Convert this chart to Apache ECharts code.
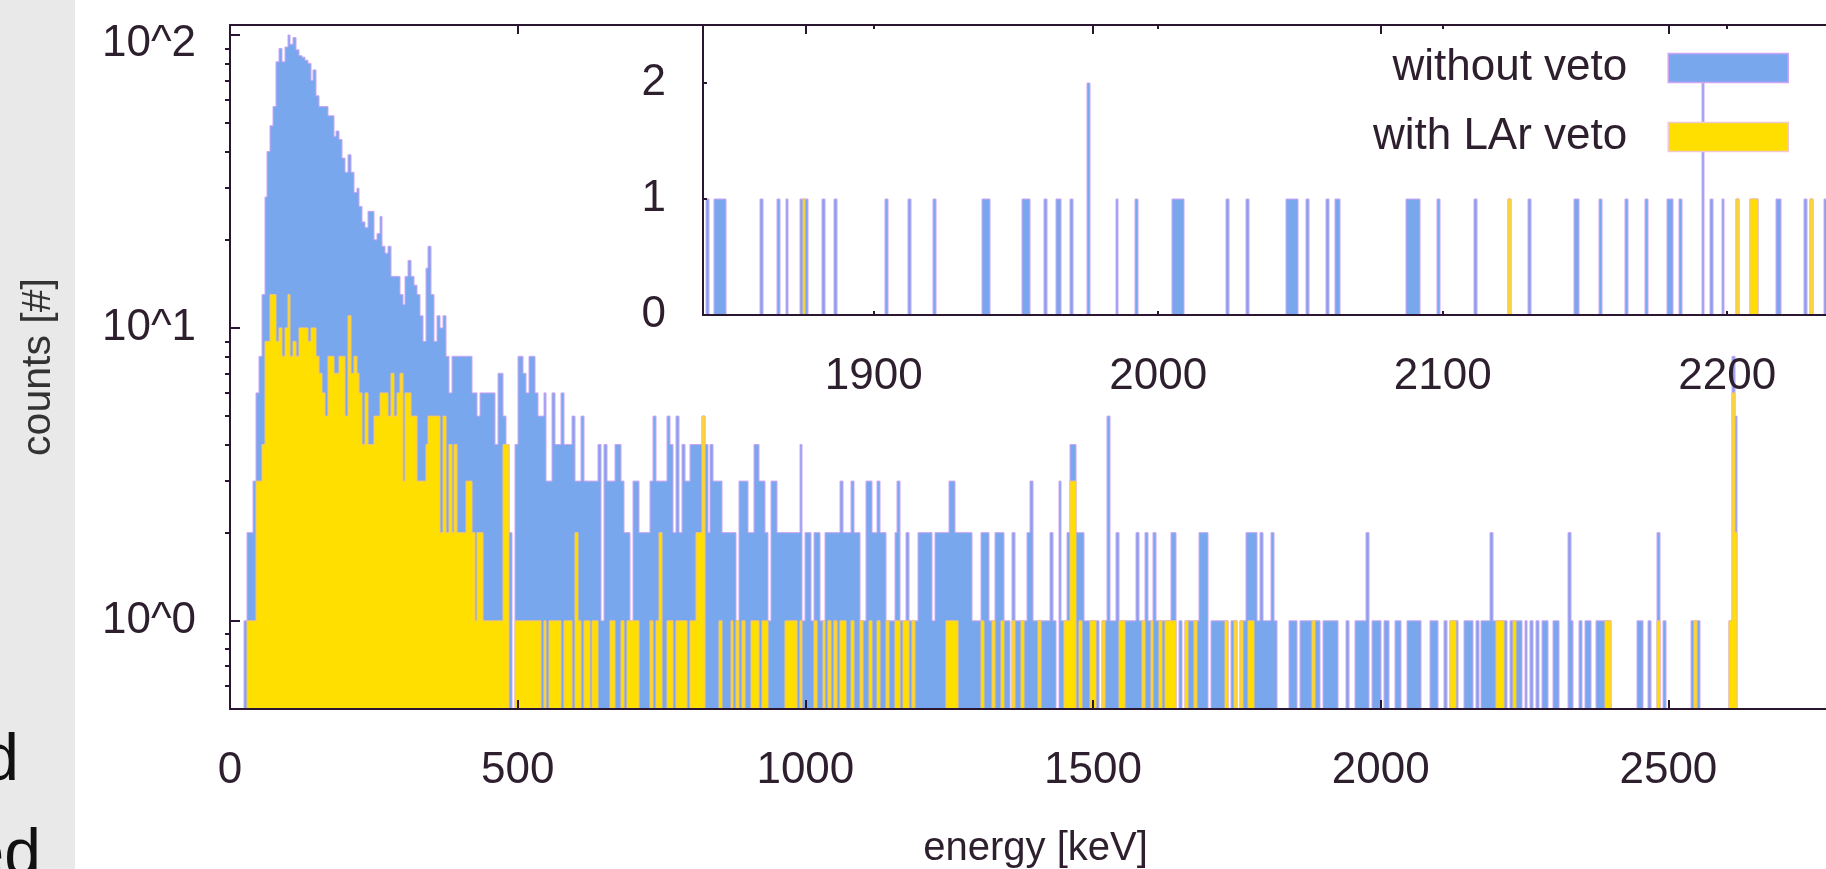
<!DOCTYPE html>
<html>
<head>
<meta charset="utf-8">
<title>energy spectrum</title>
<script src="https://cdn.jsdelivr.net/npm/echarts@6/dist/echarts.min.js"></script>
<style>
html, body { margin: 0; padding: 0; background: #fff; }
#wrap { position: relative; width: 1826px; height: 869px; overflow: hidden; background: #fff; }
#strip { position: absolute; left: 0; top: 0; width: 75px; height: 869px; background: #e9e9e9; }
.word { position: absolute; font-family: 'Liberation Sans', Arial, sans-serif; font-size: 66px; color: #111; white-space: nowrap; line-height: 1; }
#main { position: absolute; left: 0; top: 0; width: 1826px; height: 869px; }
</style>
</head>
<body>
<div id="wrap">
  <div id="strip"></div>
  <div class="word" style="right:1807px; top:724px;">d</div>
  <div class="word" style="right:1785px; top:819px;">ed</div>
  <div id="main"></div>
</div>
<script>
// main histogram: 5 keV bins starting at 0 keV
var binWidth = 5;
var mainBlue = [
  0,0,0,0,0,1,2,2,3,6,8,13,28,40,49,57,81,90,81,91,
  100,93,98,89,85,84,82,80,70,76,62,57,57,57,53,53,45,47,44,38,
  34,39,34,29,30,26,23,22,25,25,20,21,24,19,18,19,15,15,15,13,
  12,15,17,15,14,13,11,9,16,19,13,9,11,10,11,8,6,8,8,8,
  8,8,8,8,6,6,5,6,6,6,6,6,4,7,7,5,4,2,0,4,
  8,8,7,6,8,8,6,5,5,6,3,3,6,4,4,6,4,4,4,5,
  3,3,5,3,3,3,3,3,4,1,4,3,3,3,4,4,3,2,2,1,
  3,3,2,2,2,2,3,5,3,3,3,3,5,4,2,5,2,4,3,3,
  4,4,4,4,5,4,2,4,3,3,3,2,2,2,2,2,1,3,3,3,
  2,2,4,4,3,3,2,1,3,3,2,2,2,2,2,2,2,2,4,1,
  2,2,1,2,2,1,1,2,2,2,2,2,3,2,2,2,3,2,2,1,
  1,3,3,2,2,3,2,2,1,1,1,2,3,1,1,2,1,1,1,2,
  2,2,2,2,1,2,2,2,2,2,3,3,2,2,2,2,2,2,1,1,
  1,2,2,2,1,1,2,2,2,1,1,0,2,1,1,1,1,2,3,1,
  1,1,1,1,1,2,1,0,3,1,1,2,4,4,2,2,2,1,1,1,
  1,1,0,1,1,5,1,1,2,1,1,1,1,1,1,2,1,1,2,1,
  1,2,1,1,1,1,1,2,2,0,1,0,1,1,1,1,1,2,2,2,
  0,1,1,1,1,1,1,0,1,1,0,1,1,2,2,2,2,1,2,1,
  1,1,2,1,0,0,0,0,1,1,1,0,1,1,1,1,1,1,1,0,
  1,1,1,1,1,0,0,0,1,0,0,1,1,1,1,2,0,1,1,1,
  0,1,1,0,0,1,1,0,0,1,1,1,1,1,0,0,0,1,1,1,
  0,0,1,0,1,1,1,0,0,1,1,1,0,1,0,1,1,1,2,1,
  1,1,1,1,0,1,1,1,1,0,1,0,1,0,1,0,1,1,0,0,
  1,1,0,0,0,2,1,0,0,1,0,1,1,0,0,1,1,1,1,1,
  0,0,0,0,0,0,0,0,0,1,1,0,0,1,0,0,2,0,1,0,
  0,0,0,0,0,0,0,0,1,1,1,0,0,0,0,0,0,0,0,0,
  0,1,8,5,0,0,0,0,0,0,0,0,0,0,0,0,0,0,0,0,
  0,0,0,0,0,0,0,0,0,0,0,0,0,0,0,0,0,0,0,0
];
var mainYellow = [
  0,0,0,0,0,0,1,1,1,3,3,4,9,9,13,13,9,10,8,10,
  13,8,9,8,10,10,10,9,10,10,8,7,6,5,8,8,7,7,8,8,
  5,11,7,8,7,6,4,6,4,4,5,5,6,6,6,5,7,5,6,7,
  3,6,6,5,5,3,3,3,4,5,5,5,5,2,5,2,4,2,4,2,
  2,2,3,3,2,1,2,2,1,1,1,1,1,1,1,4,4,0,0,1,
  1,1,1,1,1,1,1,1,0,1,0,1,1,1,1,0,1,1,1,0,
  2,1,0,1,1,0,1,1,0,0,0,0,1,1,0,0,1,0,1,1,
  1,1,0,0,0,0,1,0,1,2,0,0,1,1,0,1,1,1,1,0,
  1,1,2,2,5,0,0,0,0,0,1,0,0,0,1,0,1,0,1,0,
  0,1,1,1,0,1,1,0,0,0,0,0,0,1,1,1,1,0,1,0,
  0,0,0,1,0,0,1,0,1,0,1,0,1,1,0,0,1,0,0,1,
  0,0,1,0,0,1,0,0,1,0,0,1,1,0,1,1,0,1,0,0,
  0,0,0,0,0,0,0,0,0,1,1,1,1,0,0,0,0,0,0,0,
  0,1,0,0,0,1,0,0,1,0,0,0,1,0,0,1,0,0,0,0,
  0,1,0,0,0,0,0,0,0,0,1,1,3,3,0,1,0,0,0,1,
  1,0,0,1,0,0,0,0,0,1,1,0,0,0,0,0,0,1,0,0,
  1,0,0,1,0,1,1,1,1,0,0,0,1,0,0,1,0,0,0,0,
  0,0,0,0,0,0,1,0,0,1,0,1,0,0,1,1,0,0,0,0,
  0,0,0,0,0,0,0,0,0,0,0,0,0,0,0,0,1,0,0,0,
  0,0,0,0,0,0,0,0,0,0,0,0,0,0,0,0,0,0,0,0,
  0,0,0,0,0,0,0,0,0,0,0,0,0,0,0,0,0,0,0,0,
  0,0,0,0,1,1,0,0,0,0,0,0,0,0,0,0,0,0,0,0,
  1,1,1,0,0,0,1,0,0,0,0,0,0,0,0,0,0,0,0,0,
  0,0,0,0,0,0,0,0,0,0,0,0,0,0,0,0,0,0,1,1,
  0,0,0,0,0,0,0,0,0,0,0,0,0,0,0,0,1,0,0,0,
  0,0,0,0,0,0,0,0,0,1,0,0,0,0,0,0,0,0,0,0,
  0,1,6,2,0,0,0,0,0,0,0,0,0,0,0,0,0,0,0,0,
  0,0,0,0,0,0,0,0,0,0,0,0,0,0,0,0,0,0,0,0
];
var mainTicksX = [0, 500, 1000, 1500, 2000, 2500];
var mainTicksY = [1, 10, 100];
var mainMinorY = [0.6, 0.7, 0.8, 0.9, 2, 3, 4, 5, 6, 7, 8, 9, 20, 30, 40, 50, 60, 70, 80, 90];

// inset: 1 keV bins, only the filled ones are listed
var insetStart = 1840, insetEnd = 2240;
var insetBlueKeV = [1841,1844,1845,1846,1847,1860,1866,1869,1874,1875,1876,1882,1886,1904,1912,1921,
  1938,1939,1940,1952,1953,1954,1960,1964,1965,1969,1975,1985,1992,2005,2006,2007,2008,2024,2031,
  2045,2046,2047,2048,2052,2059,2062,2063,2087,2088,2089,2090,2091,2098,2111,2123,2130,2146,2147,
  2155,2164,2171,2179,2180,2183,2191,2194,2198,2203,2208,2209,2210,2217,2218,2227,2229,2234,2235];
var insetBlueCounts = [1,1,1,1,1,1,1,1,1,1,1,1,1,1,1,1,
  1,1,1,1,1,1,1,1,1,1,2,1,1,1,1,1,1,1,1,
  1,1,1,1,1,1,1,1,1,1,1,1,1,1,1,1,1,1,1,
  1,1,1,1,1,1,2,1,1,1,1,1,1,1,1,1,1,1,1];
var insetYellowKeV = [1875, 2123, 2203, 2208, 2209, 2210, 2229];
var insetYellowCounts = [1, 1, 1, 1, 1, 1, 1];
var insetTicksX = [1900, 2000, 2100, 2200];
var insetTicksY = [0, 1, 2];

var font = "'Liberation Sans', Arial, sans-serif";
var textColor = '#2e1f2e';
var axisColor = '#2a1630';
var blue = '#78a7ee', blueEdge = '#cda5f4';
var yellow = '#ffdf00', yellowEdge = '#f3c27c';

function denseCounts(keys, counts, start, end) {
    var out = [];
    for (var k = start; k < end; k++) out.push(0);
    for (var i = 0; i < keys.length; i++) out[keys[i] - start] = counts[i];
    return out;
}

// one item per bin: [left, right, count, previous count]
function stepData(start, width, counts) {
    var out = [];
    for (var i = 0; i <= counts.length; i++) {
        var c = i < counts.length ? counts[i] : 0;
        var p = i > 0 ? counts[i - 1] : 0;
        if (c === 0 && p === 0) continue;
        out.push([start + i * width, start + (i + 1) * width, c, p]);
    }
    return out;
}

function stepRender(base, edge) {
    return function (params, api) {
        var x0 = api.value(0), x1 = api.value(1), c = api.value(2), p = api.value(3);
        var bl = api.coord([x0, base]);
        var br = api.coord([x1, base]);
        var L = Math.round(bl[0]), R = Math.round(br[0]), yb = bl[1];
        var yc = c > 0 ? api.coord([x0, c])[1] : yb;
        var yp = p > 0 ? api.coord([x0, p])[1] : yb;
        var kids = [];
        if (c > 0) {
            kids.push({ type: 'rect', shape: { x: L, y: yc, width: R - L, height: yb - yc },
                style: { fill: api.visual('color') } });
        }
        kids.push({ type: 'polyline', shape: { points: [[L, yp], [L, yc], [R, yc]] },
            style: { stroke: edge, lineWidth: 1, fill: null } });
        return { type: 'group', children: kids };
    };
}

function histSeries(name, color, edge, xi, yi, base, data, z) {
    return {
        name: name, type: 'custom', xAxisIndex: xi, yAxisIndex: yi, z: z,
        itemStyle: { color: color }, renderItem: stepRender(base, edge),
        encode: { x: [0, 1], y: 2 }, data: data, clip: false, silent: true
    };
}

function plain(v) { return String(v); }

var lab = { color: textColor, fontSize: 44, fontFamily: font };
var tickLine = { color: axisColor, width: 2 };
var axLine = { show: true, onZero: false, lineStyle: { color: axisColor, width: 2 } };

var chart = echarts.init(document.getElementById('main'), null, { renderer: 'canvas' });
var option = {
    animation: false,
    backgroundColor: 'transparent',
    grid: [
        { left: 230, top: 25, right: -15, bottom: 160, outerBoundsMode: 'none' },
        { left: 703, top: 25, right: -15, bottom: 554, outerBoundsMode: 'none' }
    ],
    legend: {
        orient: 'vertical', right: 37, top: 46, padding: 0, itemGap: 25,
        itemWidth: 120, itemHeight: 29, align: 'right', selectedMode: false,
        textStyle: { color: textColor, fontSize: 44, fontFamily: font, lineHeight: 29, padding: [0, 36, 0, 0] },
        data: [
            { name: 'without veto', icon: 'rect', itemStyle: { color: blue, borderColor: blueEdge, borderWidth: 1.5 } },
            { name: 'with LAr veto', icon: 'rect', itemStyle: { color: yellow, borderColor: '#f0c8d0', borderWidth: 1.5 } }
        ]
    },
    xAxis: [
        {
            type: 'value', gridIndex: 0, position: 'bottom', min: 0, max: 2800, interval: 500, z: 5,
            axisLine: axLine, splitLine: { show: false },
            axisTick: { inside: true, length: 9, lineStyle: tickLine, customValues: mainTicksX },
            axisLabel: Object.assign({ margin: 40, customValues: mainTicksX, formatter: plain }, lab),
            name: 'energy [keV]', nameLocation: 'middle', nameGap: 120,
            nameTextStyle: { color: textColor, fontSize: 40, fontFamily: font }
        },
        {
            type: 'value', gridIndex: 0, position: 'top', min: 0, max: 2800, interval: 500, z: 5,
            axisLine: axLine, splitLine: { show: false },
            axisTick: { inside: true, length: 9, lineStyle: tickLine, customValues: mainTicksX },
            axisLabel: { show: false }
        },
        {
            type: 'value', gridIndex: 1, position: 'bottom', min: insetStart, max: insetEnd, z: 5,
            axisLine: axLine, splitLine: { show: false },
            axisTick: { inside: true, length: 4, lineStyle: tickLine, customValues: insetTicksX },
            axisLabel: Object.assign({ margin: 40, customValues: insetTicksX, formatter: plain }, lab)
        },
        {
            type: 'value', gridIndex: 1, position: 'top', min: insetStart, max: insetEnd, z: 5,
            axisLine: axLine, splitLine: { show: false },
            axisTick: { inside: true, length: 4, lineStyle: tickLine, customValues: insetTicksX },
            axisLabel: { show: false }
        }
    ],
    yAxis: [
        {
            type: 'log', logBase: 10, gridIndex: 0, min: 0.5, max: 108.2, z: 5,
            axisLine: axLine, splitLine: { show: false },
            axisTick: { inside: true, length: 10, lineStyle: tickLine, customValues: mainTicksY },
            axisLabel: Object.assign({
                margin: 34, customValues: mainTicksY,
                formatter: function (v) {
                    var n = Math.round(Math.log10(v));
                    // the top label sits a little below its tick
                    return n === 2 ? '{top|10^' + n + '}' : '10^' + n;
                },
                rich: { top: { fontSize: 44, fontFamily: font, color: textColor, padding: [18, 0, 0, 0] } }
            }, lab),
            name: 'counts [#]', nameLocation: 'middle', nameGap: 171,
            nameTextStyle: { color: '#333333', fontSize: 41, fontFamily: font }
        },
        {
            type: 'log', logBase: 10, gridIndex: 0, min: 0.5, max: 108.2, z: 5,
            axisLine: { show: false }, splitLine: { show: false },
            axisTick: { inside: true, length: 5, lineStyle: tickLine, customValues: mainMinorY },
            axisLabel: { show: false }
        },
        {
            type: 'value', gridIndex: 1, min: 0, max: 2.5, z: 5,
            axisLine: axLine, splitLine: { show: false },
            axisTick: { inside: true, length: 4, lineStyle: tickLine, customValues: [1, 2] },
            axisLabel: Object.assign({ margin: 37, customValues: insetTicksY, formatter: plain }, lab)
        }
    ],
    series: [
        histSeries('without veto', blue, blueEdge, 0, 0, 0.5, stepData(0, binWidth, mainBlue), 1),
        histSeries('with LAr veto', yellow, yellowEdge, 0, 0, 0.5, stepData(0, binWidth, mainYellow), 2),
        histSeries('without veto', blue, blueEdge, 2, 2, 0,
            stepData(insetStart, 1, denseCounts(insetBlueKeV, insetBlueCounts, insetStart, insetEnd)), 1),
        histSeries('with LAr veto', yellow, yellowEdge, 2, 2, 0,
            stepData(insetStart, 1, denseCounts(insetYellowKeV, insetYellowCounts, insetStart, insetEnd)), 2)
    ]
};
chart.setOption(option);
</script>
</body>
</html>
